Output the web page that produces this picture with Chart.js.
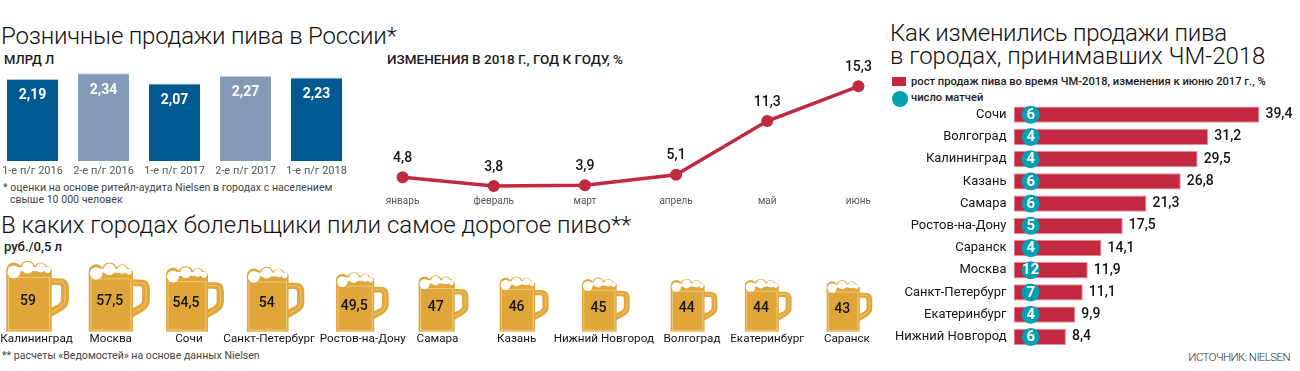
<!DOCTYPE html>
<html lang="ru"><head><meta charset="utf-8">
<script src="https://cdn.jsdelivr.net/npm/chart.js@4"></script>
<style>
html,body{margin:0;padding:0;background:#fff;width:1300px;height:371px;overflow:hidden;font-family:Roboto,sans-serif;color:#1a1a1a}
canvas{position:absolute}
.t{position:absolute;white-space:nowrap;line-height:1}
.h{font-weight:300;font-size:24px;color:#111}
.s{font-weight:500;font-size:13px}
.f{font-size:10.6px;color:#444}
</style></head><body>
<div class="t h" style="left:1px;top:24px;letter-spacing:-.2px">Розничные продажи пива в России*</div>
<div class="t s" style="left:4px;top:53px">МЛРД Л</div>
<div class="t f" style="left:3px;top:183px">* оценки на основе ритейл-аудита Nielsen в городах с населением</div>
<div class="t f" style="left:10px;top:195px">свыше 10 000 человек</div>
<div class="t" style="left:387px;top:53px;font-size:13.5px;font-weight:500">ИЗМЕНЕНИЯ В 2018 Г., ГОД К ГОДУ, %</div>
<div class="t h" style="left:1px;top:213px">В каких городах болельщики пили самое дорогое пиво**</div>
<div class="t s" style="left:4px;top:240px">руб./0,5 л</div>
<div class="t f" style="left:2px;top:351px">** расчеты «Ведомостей» на основе данных Nielsen</div>
<div class="t h" style="left:890px;top:21px;letter-spacing:-.28px">Как изменились продажи пива</div>
<div class="t h" style="left:890px;top:44px">в городах, принимавших ЧМ-2018</div>
<div class="t" style="left:892px;top:77px;width:14px;height:9px;background:#c2283f"></div>
<div class="t" style="left:911px;top:76px;font-size:11.2px;font-weight:500">рост продаж пива во время ЧМ-2018, изменения к июню 2017 г., %</div>
<div class="t" style="left:892px;top:91px;width:16px;height:16px;border-radius:50%;background:#00a0b4"></div>
<div class="t" style="left:911px;top:92px;font-size:11.2px;font-weight:500">число матчей</div>
<div class="t" style="right:10px;top:352px;font-size:11.5px;font-weight:300;color:#333;letter-spacing:-.6px">ИСТОЧНИК: NIELSEN</div>

<canvas id="c1" style="left:-3px;top:71px" width="355" height="110"></canvas>
<canvas id="c2" style="left:357px;top:60px" width="547" height="155"></canvas>
<canvas id="c3" style="left:-3px;top:259px" width="893" height="91"></canvas>
<canvas id="c4" style="left:880px;top:103px" width="420" height="245"></canvas>
<script>
// Розничные продажи
const periods = ["1-е п/г 2016","2-е п/г 2016","1-е п/г 2017","2-е п/г 2017","1-е п/г 2018"];
const salesBln = [2.19,2.34,2.07,2.27,2.23];
// Изменения год к году
const months = ["январь","февраль","март","апрель","май","июнь"];
const yoyChange = [4.8,3.8,3.9,5.1,11.3,15.3];
// Цена пива
const priceCities = ["Калининград","Москва","Сочи","Санкт-Петербург","Ростов-на-Дону","Самара","Казань","Нижний Новгород","Волгоград","Екатеринбург","Саранск"];
const prices = [59,57.5,54.5,54,49.5,47,46,45,44,44,43];
// Продажи в городах ЧМ
const wcCities = ["Сочи","Волгоград","Калининград","Казань","Самара","Ростов-на-Дону","Саранск","Москва","Санкт-Петербург","Екатеринбург","Нижний Новгород"];
const wcGrowth = [39.4,31.2,29.5,26.8,21.3,17.5,14.1,11.9,11.1,9.9,8.4];
const wcMatches = [6,4,4,6,6,5,4,12,7,4,6];

// small hand-layout corrections of the original, relative to the scale's category positions
const mugNudge = [0,0.5,-5,-5.5,0,0,-0.5,0,7,0,0];
const nameNudge = [-1,-8,-11,-12,0.5,-6,-8,-2,5,-1,-2.5];

const RED="#c2283f", BLUE="#005a92", GREY="#8499b5", GOLD="#e0a63a", LIGHT="#efc77c", TEAL="#00a0b4", INK="#141414";
const F="Roboto,sans-serif";
const fmt=v=>String(v).replace(".",",");
Chart.defaults.font.family=F;
Chart.defaults.animation=false;
Chart.defaults.responsive=false;
Chart.defaults.layout.autoPadding=false;
Chart.defaults.plugins.legend.display=false;
Chart.defaults.plugins.tooltip.enabled=false;
const fix=(p)=>s=>{ if(p.h!=null) s.height=p.h; if(p.w!=null) s.width=p.w; s.paddingTop=0;s.paddingBottom=0;s.paddingLeft=0;s.paddingRight=0; };
const noGrid={display:false,drawTicks:false};
const label=(ctx,txt,x,y,font,color,align)=>{ctx.save();ctx.font=font;ctx.fillStyle=color;ctx.textAlign=align||"center";ctx.textBaseline="middle";ctx.fillText(txt,x,y);ctx.restore();};

// 1. bars
new Chart(c1,{type:"bar",
 data:{labels:periods,datasets:[{data:salesBln,
   backgroundColor:periods.map(p=>p.startsWith("1")?BLUE:GREY),
   borderColor:periods.map(p=>p.startsWith("1")?"#a9c4da":"#c3cedc"),borderWidth:{top:1,left:0,right:0,bottom:0},borderSkipped:false,
   barPercentage:51/71,categoryPercentage:1}]},
 options:{layout:{padding:0},
  scales:{x:{grid:noGrid,border:{display:false},afterFit:fix({h:20}),
     ticks:{padding:4,maxRotation:0,autoSkip:false,color:"#555",font:{size:11}}},
    y:{display:false,min:0,max:2.4}}},
 plugins:[{id:"v",afterDatasetsDraw(ch){const m=ch.getDatasetMeta(0);
   m.data.forEach((b,i)=>label(ch.ctx,fmt(salesBln[i]),b.x,b.y+17,"700 14px "+F,"#fff"));}}]});

// 2. line
new Chart(c2,{type:"line",
 data:{labels:months,datasets:[{data:yoyChange,borderColor:RED,backgroundColor:RED,borderWidth:3.5,pointRadius:6,pointBackgroundColor:RED,pointBorderWidth:0,tension:0,clip:false}]},
 options:{layout:{padding:{top:20.3}},
  scales:{x:{offset:true,grid:noGrid,border:{display:false},afterFit:fix({h:20.3}),
     ticks:{padding:1,maxRotation:0,autoSkip:false,color:"#555",font:{size:10}}},
    y:{display:false,min:2.8,max:16}}},
 plugins:[{id:"v",afterDatasetsDraw(ch){const m=ch.getDatasetMeta(0);
   m.data.forEach((p,i)=>label(ch.ctx,fmt(yoyChange[i]),p.x,p.y-19,"500 14px "+F,INK));}}]});

// 3. mugs: each bar's geometry is redrawn as a mug
function mug(ctx,cx,top,base){
 const h=base-top,w=h*0.885,x0=cx-w/2;
 const X=u=>x0+u*w/182,Y=v=>top+v*h/204,R=r=>r*h/204;
 const circ=(x,y,r,c)=>{ctx.fillStyle=c;ctx.beginPath();ctx.arc(X(x),Y(y),R(r),0,7);ctx.fill();};
 ctx.save();
 // handle
 ctx.fillStyle=GOLD;ctx.beginPath();
 ctx.moveTo(X(120),Y(50));ctx.lineTo(X(155),Y(50));ctx.quadraticCurveTo(X(182),Y(50),X(182),Y(78));
 ctx.lineTo(X(182),Y(112));ctx.quadraticCurveTo(X(182),Y(132),X(160),Y(145));ctx.lineTo(X(120),Y(168));ctx.closePath();ctx.fill();
 ctx.fillStyle="#fff";ctx.beginPath();
 ctx.moveTo(X(130),Y(70));ctx.lineTo(X(152),Y(70));ctx.quadraticCurveTo(X(159),Y(70),X(159),Y(78));
 ctx.lineTo(X(159),Y(112));ctx.quadraticCurveTo(X(159),Y(120),X(150),Y(125));ctx.lineTo(X(130),Y(135));ctx.closePath();ctx.fill();
 ctx.strokeStyle=LIGHT;ctx.lineWidth=1;ctx.beginPath();
 ctx.moveTo(X(132),Y(60));ctx.lineTo(X(154),Y(60));ctx.quadraticCurveTo(X(171),Y(60),X(171),Y(78));
 ctx.lineTo(X(171),Y(112));ctx.quadraticCurveTo(X(171),Y(126),X(155),Y(135));ctx.lineTo(X(132),Y(148));ctx.stroke();
 // body + foam
 ctx.fillStyle=GOLD;ctx.fillRect(X(0),Y(28),X(132)-X(0),Y(204)-Y(28));
 circ(22,27,22,GOLD);circ(62,23,23,GOLD);circ(100,23,18,GOLD);circ(118,30,14,GOLD);
 ctx.strokeStyle=LIGHT;ctx.lineWidth=1;ctx.strokeRect(X(5)+.5,Y(48),X(127)-X(5)-1,Y(199)-Y(48));
 circ(22,32,18.5,"#fff");circ(62,20,17,"#fff");circ(100,20,13,"#fff");circ(120,28,8,"#fff");
 ctx.fillStyle="#fff";ctx.fillRect(X(28),Y(18),X(128)-X(28),Y(30)-Y(18));
 ctx.restore();
}
new Chart(c3,{type:"bar",
 data:{labels:priceCities,datasets:[{data:prices,backgroundColor:"rgba(224,166,58,0)",barPercentage:.5,categoryPercentage:1}]},
 options:{layout:{padding:0},
  scales:{x:{grid:noGrid,border:{display:false},afterFit:fix({h:22}),ticks:{display:false}},
    y:{display:false,min:3,max:60.5}}},
 plugins:[{id:"m",afterDatasetsDraw(ch){const ctx=ch.ctx;
   ch.getDatasetMeta(0).data.forEach((b,i)=>{const cx=b.x+mugNudge[i];mug(ctx,cx,b.y,b.base);
     const h=b.base-b.y,w=h*.885;
     label(ctx,fmt(prices[i]),cx-w/2+w*.345,b.base-h*.43,"500 14px "+F,INK);
     label(ctx,priceCities[i],b.x+nameNudge[i],ch.chartArea.bottom+11,"400 11.7px "+F,INK);});}}]});

// 4. horizontal bars + match badges
const badgeAt=2.76;
new Chart(c4,{type:"bar",
 data:{labels:wcCities,datasets:[
  {type:"line",indexAxis:"y",showLine:false,order:0,data:wcMatches.map((_,i)=>({x:badgeAt,y:wcCities[i]})),
    pointRadius:9,pointBackgroundColor:TEAL,pointBorderWidth:0,backgroundColor:TEAL,clip:false},
  {data:wcGrowth,order:1,backgroundColor:RED,borderColor:"#e58d9b",borderWidth:1,borderSkipped:false,barPercentage:16.3/22.2,categoryPercentage:1,grouped:false}]},
 options:{indexAxis:"y",layout:{padding:{top:.6,bottom:0}},
  scales:{y:{type:"category",grid:noGrid,border:{display:false},afterFit:fix({w:133.5}),
      ticks:{padding:7,autoSkip:false,color:INK,font:{size:13}}},
    x:{display:false,min:0,max:45.9}}},
 plugins:[{id:"v",afterDatasetsDraw(ch){const ctx=ch.ctx;
   ch.getDatasetMeta(1).data.forEach((b,i)=>label(ctx,fmt(wcGrowth[i]),b.x+6,b.y,"500 14px "+F,INK,"left"));
   ch.getDatasetMeta(0).data.forEach((p,i)=>label(ctx,String(wcMatches[i]),p.x,p.y+.5,"700 15px "+F,"#fff"));}}]});
</script>
</body></html>
